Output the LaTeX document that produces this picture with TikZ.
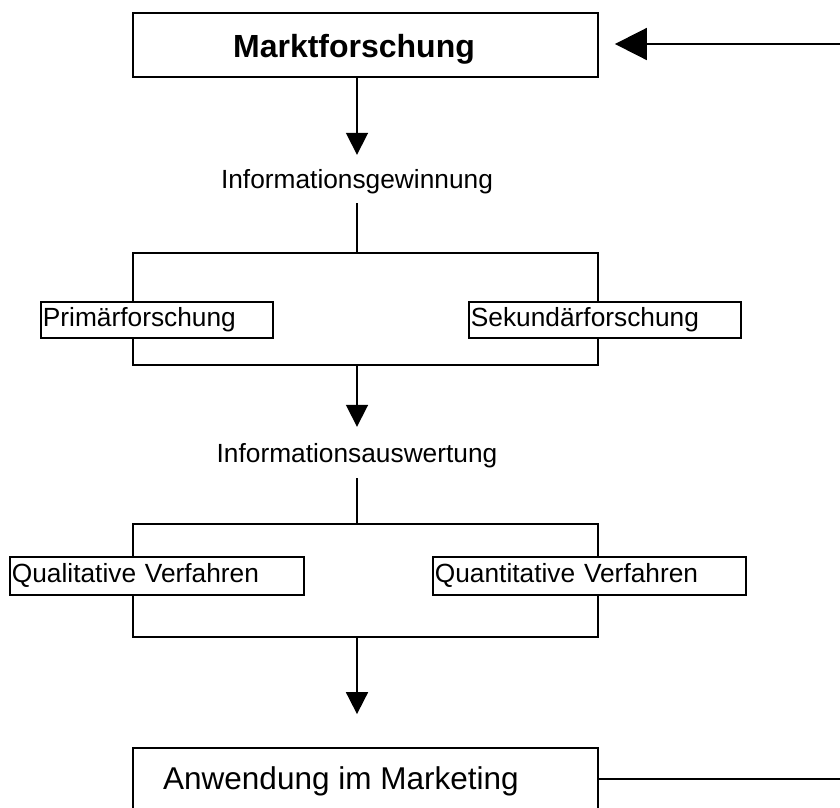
\documentclass[tikz,border=0pt]{standalone}
\usepackage{fontspec}
\setmainfont{Liberation Sans}
\usetikzlibrary{arrows.meta}
\newcommand\bodyfont{\fontsize{26.3}{30}\selectfont}
\tikzset{
  ln/.style={line width=1.8pt},
  frame/.style={draw, line width=1.8pt, inner sep=0pt, fill=white},
  bracket/.style={draw, line width=1.8pt, inner sep=0pt},
  lbox/.style={draw, line width=1.8pt, fill=white, anchor=west, inner xsep=2pt, inner ysep=0pt,
               align=left, minimum height=36pt, text height=19pt, text depth=5.5pt, font=\bodyfont},
  lbl/.style={font=\bodyfont, anchor=base, inner xsep=0pt, text height=19pt},
  varr/.style={ln, -{Triangle[length=22pt,width=22pt]}},
  harr/.style={ln, -{Triangle[length=32pt,width=32pt]}},
}
\begin{document}
\begin{tikzpicture}[x=1pt, y=-1pt]
\useasboundingbox (0,0) rectangle (840,807);
\clip (0,0) rectangle (840,807);
% brackets
\node[bracket, minimum width=465pt, minimum height=112pt] (br1) at (365.5,309) {};
\node[bracket, minimum width=465pt, minimum height=113pt] (br2) at (365.5,580.5) {};
% top box
\node[frame, minimum width=465pt, minimum height=64pt] (mf) at (365.5,45) {};
\node[font=\fontsize{32}{36}\selectfont\bfseries, anchor=base, inner sep=0pt] (mft) at (354,57) {Marktforschung};
% labels
\node[lbl, text depth=1pt, inner ysep=14pt] (g1) at (357,188) {Informationsgewinnung};
\node[lbl, text depth=0pt, inner ysep=16pt] (g2) at (357,462) {Informationsauswertung};
% sub boxes
\node[lbox, text width=228pt] (p1) at (40,320) {Primärforschung};
\node[lbox, text width=268pt] (p2) at (468,320) {Sekundärforschung};
\node[lbox, text width=290pt, minimum height=38pt] (q1) at (9,576) {Qualitative Verfahren};
\node[lbox, text width=309pt, minimum height=38pt] (q2) at (432,576) {Quantitative Verfahren};
% bottom box
\node[frame, minimum width=465pt, minimum height=62pt] (an) at (365.5,779) {};
\node[font=\fontsize{31.5}{36}\selectfont, anchor=base west, inner sep=0pt] (ant) at (163,789) {Anwendung im Marketing};
% connectors
\draw[varr] (mf.south -| g1) -- (g1.north);
\draw[ln] (g1.south) -- (g1.south |- br1.north);
\draw[varr] (br1.south -| g2) -- (g2.north);
\draw[ln] (g2.south) -- (g2.south |- br2.north);
\draw[varr, shorten >=33pt] (br2.south -| g2) -- (an.north -| g2);
% feedback
\coordinate (fb1) at (840,44);
\coordinate (fb2) at (840,779);
\draw[harr, shorten >=16pt] (fb1) -- (fb1 -| mf.east);
\draw[ln] (an.east) -- (an.east -| fb2);
\end{tikzpicture}
\end{document}
